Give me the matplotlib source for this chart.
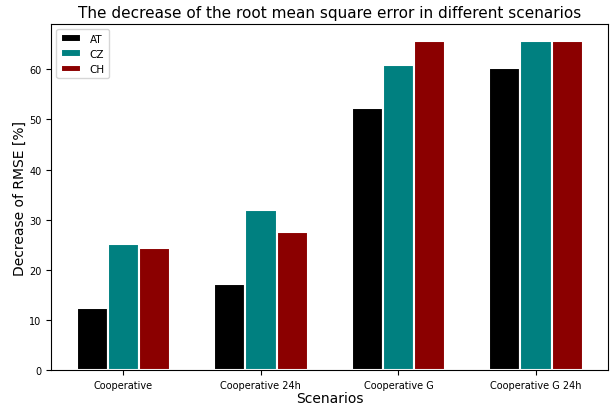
import numpy as np
import matplotlib
matplotlib.use("Agg")
from matplotlib import pyplot as plt

scenarios = ["Cooperative", "Cooperative 24h", "Cooperative G", "Cooperative G 24h"]
countries = ["AT", "CZ", "CH"]
at_values = [12.4, 17.2, 52.2, 60.3]
cz_values = [25.1, 31.9, 60.9, 65.7]
ch_values = [24.4, 27.5, 65.7, 65.7]
colors = ["black", "teal", "darkred"]

fig = plt.figure(figsize=(6.1, 4.06), dpi=100)
ax = fig.add_axes([0.084, 0.086, 0.913, 0.852])

x = np.arange(len(scenarios))
width = 0.227
for i, (vals, name) in enumerate(zip([at_values, cz_values, ch_values], countries)):
    ax.bar(x + (i - 1) * width, vals, width, color=colors[i], edgecolor="white",
           linewidth=1.5, label=name)

ax.set_xticks(x)
ax.set_xticklabels(scenarios, fontsize=7)
ax.tick_params(axis="y", labelsize=7)
ax.set_xlabel("Scenarios", fontsize=10, labelpad=1)
ax.set_ylabel("Decrease of RMSE [%]", fontsize=10, labelpad=2)
ax.set_title("The decrease of the root mean square error in different scenarios", fontsize=11, pad=5)
ax.legend(loc="upper left", fontsize=7.5)

fig.savefig("out.png", dpi=100)
